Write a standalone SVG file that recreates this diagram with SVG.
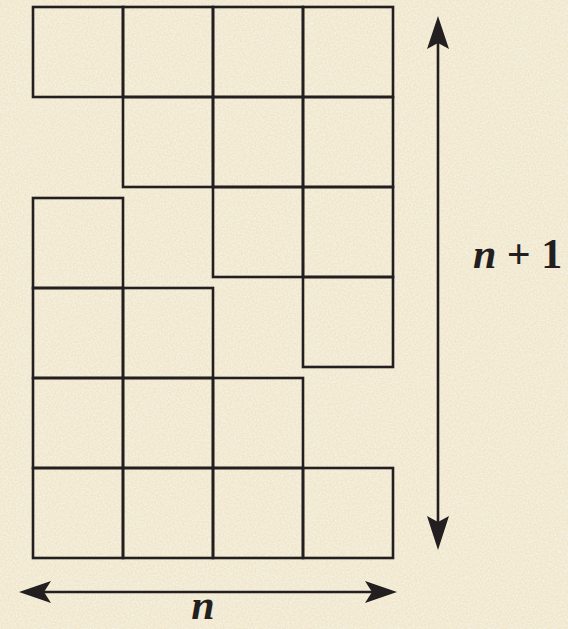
<svg xmlns="http://www.w3.org/2000/svg" width="568" height="629" viewBox="0 0 568 629">
<defs>
<style>
.sq{fill:none;stroke:#231f20;stroke-width:2.6}
.ln{stroke:#231f20;stroke-width:2.6;fill:none}
.ah{fill:#231f20}
.lbl{font-family:"Liberation Serif","Times New Roman",serif;font-weight:bold;font-size:42px;fill:#231f20}
</style>
<filter id="paper" x="0" y="0" width="100%" height="100%">
<feTurbulence type="fractalNoise" baseFrequency="0.6" numOctaves="2" seed="3" result="n"/>
<feColorMatrix in="n" type="matrix" values="0 0 0 0 1  0 0 0 0 1  0 0 0 0 1  0 0 0 -1.2 0.9" result="w"/>
<feComposite in="w" in2="SourceGraphic" operator="in"/>
</filter>
</defs>
<rect width="568" height="629" fill="#efe5c9"/>
<rect width="568" height="629" fill="#f6efdc" filter="url(#paper)" opacity="0.7"/>
<g id="squares">
<g id="top-staircase">
<rect class="sq" x="33" y="7" width="90" height="90"/>
<rect class="sq" x="123" y="7" width="90" height="90"/>
<rect class="sq" x="213" y="7" width="90" height="90"/>
<rect class="sq" x="303" y="7" width="90" height="90"/>
<rect class="sq" x="123" y="97" width="90" height="90"/>
<rect class="sq" x="213" y="97" width="90" height="90"/>
<rect class="sq" x="303" y="97" width="90" height="90"/>
<rect class="sq" x="213" y="187" width="90" height="90"/>
<rect class="sq" x="303" y="187" width="90" height="90"/>
<rect class="sq" x="303" y="277" width="90" height="90"/>
</g>
<g id="bottom-staircase">
<rect class="sq" x="33" y="198" width="90" height="90"/>
<rect class="sq" x="33" y="288" width="90" height="90"/>
<rect class="sq" x="123" y="288" width="90" height="90"/>
<rect class="sq" x="33" y="378" width="90" height="90"/>
<rect class="sq" x="123" y="378" width="90" height="90"/>
<rect class="sq" x="213" y="378" width="90" height="90"/>
<rect class="sq" x="33" y="468" width="90" height="90"/>
<rect class="sq" x="123" y="468" width="90" height="90"/>
<rect class="sq" x="213" y="468" width="90" height="90"/>
<rect class="sq" x="303" y="468" width="90" height="90"/>
</g>
</g>
<g id="connectors">
<line class="ln" x1="40" y1="592" x2="376" y2="592"/>
<path class="ah" d="M19,592 L51,581 L44,592 L51,603 Z"/>
<path class="ah" d="M397,592 L365,581 L372,592 L365,603 Z"/>
<line class="ln" x1="438" y1="36" x2="438" y2="530"/>
<path class="ah" d="M438,16 L427,49 L438,43 L449,49 Z"/>
<path class="ah" d="M438,550 L427,516 L438,522 L449,516 Z"/>
</g>
<g id="labels">
<text class="lbl" x="203" y="619" text-anchor="middle" font-style="italic">n</text>
<text class="lbl" x="473" y="268"><tspan font-style="italic">n</tspan> + 1</text>
</g>
</svg>
